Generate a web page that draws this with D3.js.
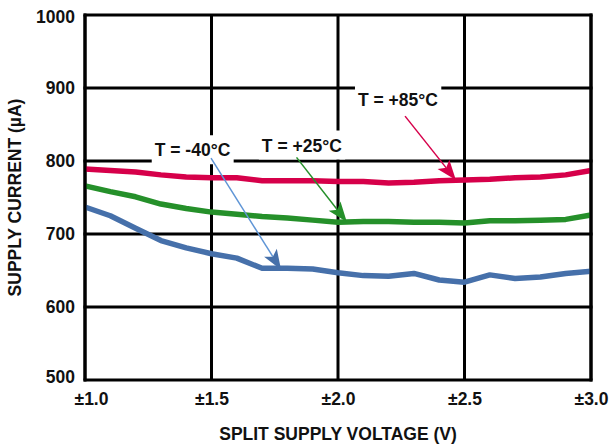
<!DOCTYPE html>
<html>
<head>
<meta charset="utf-8">
<script src="https://cdn.jsdelivr.net/npm/d3@7"></script>
<style>
  html, body { margin: 0; padding: 0; background: #fff; }
  svg { display: block; }
  text { font-family: "Liberation Sans", Arial, Helvetica, sans-serif; font-weight: bold; fill: #111; }
</style>
</head>
<body>
<svg id="chart" width="609" height="446"></svg>
<script>
// Split supply voltage (V), 0.1 V steps
const voltage = [1.0, 1.1, 1.2, 1.3, 1.4, 1.5, 1.6, 1.7, 1.8, 1.9, 2.0,
                 2.1, 2.2, 2.3, 2.4, 2.5, 2.6, 2.7, 2.8, 2.9, 3.0];

// Supply current (µA) per temperature
const currentMinus40 = [737, 725, 708, 691, 681, 673, 667, 653, 653, 652, 647,
                        643, 642, 646, 637, 634, 644, 639, 641, 646, 649];
const currentPlus25  = [766, 758, 751, 741, 735, 730, 727, 724, 722, 719, 716,
                        717, 717, 716, 716, 715, 718, 718, 719, 720, 726];
const currentPlus85  = [789, 787, 785, 781, 778, 777, 777, 773, 773, 773, 772,
                        772, 770, 771, 773, 774, 775, 777, 778, 781, 787];

const seriesNames  = ["T = -40°C", "T = +25°C", "T = +85°C"];
const seriesColors = ["#4670aa", "#25902a", "#d6004a"];
const arrowColors  = ["#5f95d6", "#25902a", "#d6004a"];

// Axis ticks
const xTicks = [1.0, 1.5, 2.0, 2.5, 3.0];
const xTickLabels = ["±1.0", "±1.5", "±2.0", "±2.5", "±3.0"];
const yTicks = [500, 600, 700, 800, 900, 1000];

// Callout label anchors and arrow start/tip, in data units
const labelPos = [[1.425, 806.5], [1.857, 813], [2.237, 876]];
const arrowFrom = [[1.498, 804], [1.836, 805], [2.265, 861.5]];
const arrowTip  = [[1.775, 651], [2.035, 716.5], [2.466, 774]];

const svg = d3.select("#chart");
const margin = { left: 85, right: 18, top: 15, bottom: 66 };
const W = 609, H = 446;

const x = d3.scaleLinear().domain([1, 3]).range([margin.left, W - margin.right]);
const y = d3.scaleLinear().domain([500, 1000]).range([H - margin.bottom, margin.top]);

// Grid and frame
const grid = svg.append("g").attr("stroke", "#000").attr("stroke-width", 3);
yTicks.forEach(v => {
  grid.append("line")
    .attr("x1", x(1) - 1.5).attr("x2", x(3) + 1.5)
    .attr("y1", y(v)).attr("y2", y(v));
});
xTicks.forEach(v => {
  grid.append("line")
    .attr("x1", x(v)).attr("x2", x(v))
    .attr("y1", y(1000)).attr("y2", y(500));
});

// Y tick labels
const yAxis = d3.axisLeft(y).tickValues(yTicks).tickSize(0).tickPadding(10).tickFormat(d3.format("d"));
const gy = svg.append("g").attr("transform", `translate(${x(1)},0)`).call(yAxis);
gy.select(".domain").remove();
gy.selectAll("text")
  .style("font-size", "17.5px")
  .attr("dy", d => d === 1000 ? "0.42em" : d === 500 ? "0.15em" : "0.34em");

// X tick labels
const xAxis = d3.axisBottom(x).tickValues(xTicks).tickSize(0).tickPadding(13)
  .tickFormat((d, i) => xTickLabels[i]);
const gx = svg.append("g").attr("transform", `translate(0,${y(500)})`).call(xAxis);
gx.select(".domain").remove();
gx.selectAll("text")
  .style("font-size", "17.5px")
  .attr("dx", (d, i) => i === 0 ? 6 : 0);

// Axis titles
svg.append("text")
  .attr("x", (x(1) + x(3)) / 2).attr("y", 440)
  .attr("text-anchor", "middle").style("font-size", "17.5px")
  .text("SPLIT SUPPLY VOLTAGE (V)");
svg.append("text")
  .attr("transform", `translate(21,${(y(500) + y(1000)) / 2}) rotate(-90)`)
  .attr("text-anchor", "middle").style("font-size", "17.5px")
  .text("SUPPLY CURRENT (µA)");

// Curves
const allSeries = [currentMinus40, currentPlus25, currentPlus85];
const line = d3.line().x((d, i) => x(voltage[i])).y(d => y(d));
allSeries.forEach((s, k) => {
  svg.append("path")
    .datum(s)
    .attr("d", line)
    .attr("fill", "none")
    .attr("stroke", seriesColors[k])
    .attr("stroke-width", 5.5)
    .attr("stroke-linejoin", "round");
});

// Redraw left and right frame edges above the curve ends
[1, 3].forEach(v => {
  svg.append("line")
    .attr("x1", x(v)).attr("x2", x(v))
    .attr("y1", y(1000) - 1.5).attr("y2", y(500) + 1.5)
    .attr("stroke", "#000").attr("stroke-width", 3);
});

// Callouts: white box behind label, text, arrow with head
seriesNames.forEach((name, k) => {
  const g = svg.append("g");
  const t = g.append("text")
    .attr("x", x(labelPos[k][0])).attr("y", y(labelPos[k][1]))
    .attr("text-anchor", "middle").style("font-size", "17.5px")
    .text(name);
  const bb = t.node().getBBox();
  g.insert("rect", "text")
    .attr("x", bb.x - 3).attr("y", bb.y - 5)
    .attr("width", bb.width + 6).attr("height", bb.height + 9)
    .attr("fill", "#fff");

  const x0 = x(arrowFrom[k][0]), y0 = y(arrowFrom[k][1]);
  const x1 = x(arrowTip[k][0]), y1 = y(arrowTip[k][1]);
  const ang = Math.atan2(y1 - y0, x1 - x0);
  const len = 20, half = 7.5, notch = 4.5;
  const ux = Math.cos(ang), uy = Math.sin(ang);
  const px = -uy, py = ux;
  const bx = x1 - ux * len, by = y1 - uy * len;
  svg.append("line")
    .attr("x1", x0).attr("y1", y0)
    .attr("x2", bx + ux * notch).attr("y2", by + uy * notch)
    .attr("stroke", arrowColors[k]).attr("stroke-width", 1.5);
  const head = [
    [x1, y1],
    [bx + px * half, by + py * half],
    [bx + ux * notch, by + uy * notch],
    [bx - px * half, by - py * half]
  ];
  svg.append("path")
    .attr("d", "M" + head.map(p => p.join(",")).join("L") + "Z")
    .attr("fill", seriesColors[k]);
});
</script>
</body>
</html>
